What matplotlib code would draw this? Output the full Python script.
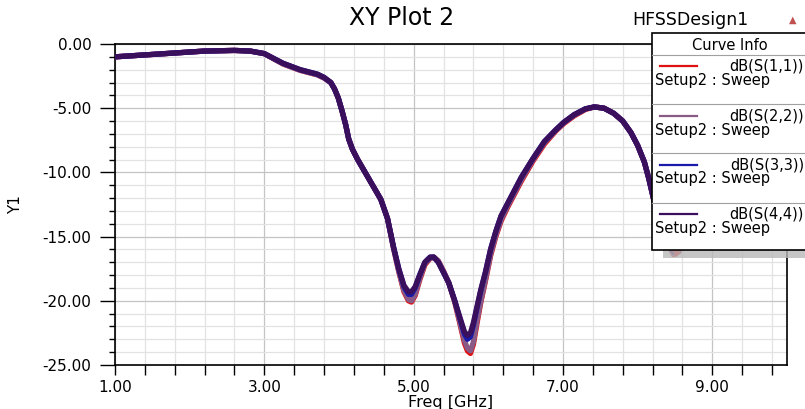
import matplotlib.pyplot as plt
from matplotlib.patches import Rectangle
from matplotlib.ticker import MultipleLocator, FormatStrFormatter

plt.rcParams['font.family'] = ['DejaVu Sans']
plt.rcParams['axes.unicode_minus'] = False

# frequency sweep points [GHz]
freq = [1.00, 1.40, 1.80, 2.20, 2.60, 2.81, 3.00, 3.25, 3.48, 3.71,
        3.80, 3.89, 3.94, 3.99, 4.04, 4.09, 4.13, 4.18, 4.25, 4.33,
        4.46, 4.56, 4.65, 4.73, 4.80, 4.87, 4.93, 4.97, 5.02, 5.08,
        5.15, 5.22, 5.27, 5.33, 5.40, 5.47, 5.55, 5.62, 5.68, 5.72,
        5.76, 5.80, 5.85, 5.90, 5.96, 6.03, 6.10, 6.17, 6.26, 6.35,
        6.44, 6.60, 6.75, 6.90, 7.01, 7.15, 7.30, 7.42, 7.55, 7.68,
        7.80, 7.91, 8.00, 8.09, 8.15, 8.21, 8.30, 8.40, 8.48, 8.55,
        8.65, 8.80, 9.00, 9.40, 10.00]

# return loss of the four ports [dB]
s11 = [-1.00, -0.85, -0.70, -0.55, -0.50, -0.55, -0.75, -1.55, -2.05, -2.40,
       -2.65, -3.00, -3.50, -4.20, -5.20, -6.30, -7.40, -8.20, -9.00, -9.80,
       -11.10, -12.10, -13.60, -15.90, -17.70, -19.30, -20.00, -20.10, -19.60, -18.40,
       -17.20, -16.70, -16.60, -16.90, -17.70, -18.60, -20.10, -21.80, -23.30, -23.90,
       -24.10, -23.40, -21.70, -20.10, -18.50, -16.50, -15.00, -13.80, -12.70, -11.70,
       -10.70, -9.10, -7.80, -6.80, -6.20, -5.60, -5.10, -4.90, -5.00, -5.40,
       -6.00, -6.90, -7.90, -9.20, -10.50, -12.00, -13.90, -15.50, -16.40, -16.20,
       -14.60, -12.10, -10.00, -8.00, -6.50]
s22 = [-1.00, -0.85, -0.70, -0.55, -0.50, -0.55, -0.75, -1.55, -2.05, -2.40,
       -2.65, -3.00, -3.50, -4.20, -5.20, -6.30, -7.40, -8.20, -9.00, -9.80,
       -11.10, -12.10, -13.60, -15.90, -17.70, -19.20, -19.90, -20.00, -19.50, -18.30,
       -17.10, -16.70, -16.60, -16.90, -17.70, -18.60, -20.00, -21.70, -23.10, -23.70,
       -23.90, -23.20, -21.50, -20.00, -18.40, -16.40, -14.90, -13.70, -12.60, -11.60,
       -10.60, -9.00, -7.70, -6.75, -6.15, -5.55, -5.05, -4.90, -5.00, -5.40,
       -6.00, -6.90, -7.90, -9.20, -10.50, -12.00, -13.85, -15.40, -16.30, -16.10,
       -14.50, -12.00, -10.00, -8.00, -6.50]
s33 = [-1.00, -0.85, -0.70, -0.55, -0.50, -0.55, -0.75, -1.50, -2.00, -2.35,
       -2.60, -3.00, -3.50, -4.20, -5.20, -6.30, -7.40, -8.20, -9.00, -9.80,
       -11.10, -12.10, -13.60, -15.80, -17.50, -18.90, -19.50, -19.50, -19.00, -18.00,
       -17.00, -16.60, -16.60, -17.00, -17.80, -18.60, -20.00, -21.40, -22.60, -23.00,
       -22.80, -21.90, -20.50, -19.20, -17.80, -16.00, -14.60, -13.40, -12.40, -11.40,
       -10.40, -8.90, -7.60, -6.70, -6.10, -5.50, -5.05, -4.90, -5.00, -5.40,
       -6.00, -6.90, -7.90, -9.20, -10.50, -12.00, -13.80, -15.30, -16.20, -16.00,
       -14.50, -12.00, -10.00, -8.00, -6.50]
s44 = [-1.00, -0.85, -0.70, -0.55, -0.50, -0.55, -0.75, -1.50, -2.00, -2.35,
       -2.60, -3.00, -3.50, -4.20, -5.20, -6.30, -7.40, -8.20, -9.00, -9.80,
       -11.10, -12.10, -13.60, -15.80, -17.50, -18.80, -19.30, -19.30, -18.90, -18.00,
       -17.00, -16.60, -16.60, -17.00, -17.80, -18.60, -20.00, -21.30, -22.40, -22.70,
       -22.50, -21.70, -20.40, -19.10, -17.80, -16.00, -14.60, -13.40, -12.40, -11.40,
       -10.40, -8.90, -7.60, -6.70, -6.10, -5.50, -5.05, -4.90, -5.00, -5.40,
       -6.00, -6.90, -7.90, -9.20, -10.50, -12.00, -13.80, -15.30, -16.20, -16.00,
       -14.50, -12.00, -10.00, -8.00, -6.50]

# marker on dB(S(1,1))
m_freq = [8.52]
m_db = [-16.3]

curves = [("dB(S(1,1))", s11, "#e01010"),
          ("dB(S(2,2))", s22, "#8a5a86"),
          ("dB(S(3,3))", s33, "#1a1aa8"),
          ("dB(S(4,4))", s44, "#3a0f5c")]

W, H = 805, 409
fig = plt.figure(figsize=(W / 100, H / 100), dpi=100)
ax = fig.add_axes([115 / W, (H - 365) / H, 672 / W, 321 / H])

for name, vals, col in curves:
    ax.plot(freq, vals, color=col, lw=3.8, solid_capstyle="round",
            solid_joinstyle="round", zorder=3)
ax.plot(m_freq, m_db, "v", color="#e01010", ms=5, zorder=6)

ax.set_xlim(1, 10)
ax.set_ylim(-25, 0)
ax.xaxis.set_major_locator(MultipleLocator(2, offset=1))
ax.xaxis.set_minor_locator(MultipleLocator(0.4, offset=0.2))
ax.yaxis.set_major_locator(MultipleLocator(5))
ax.yaxis.set_minor_locator(MultipleLocator(1))
ax.xaxis.set_major_formatter(FormatStrFormatter("%.2f"))
ax.yaxis.set_major_formatter(FormatStrFormatter("%.2f"))
ax.grid(which="major", color="#c4c4c4", lw=0.9)
ax.grid(which="minor", color="#e2e2e2", lw=0.9)
ax.set_axisbelow(True)
ax.tick_params(axis="y", which="major", length=11, width=1, labelsize=11, pad=6)
ax.tick_params(axis="y", which="minor", length=4.5, width=1)
ax.tick_params(axis="x", which="major", length=7, width=1, labelsize=11, pad=4)
ax.tick_params(axis="x", which="minor", length=7, width=1)
for s in ax.spines.values():
    s.set_linewidth(1.2)
ax.set_xlabel("Freq [GHz]", fontsize=11.5, labelpad=0)
ax.set_ylabel("Y1", fontsize=11, labelpad=14)

fig.text(402 / W, 1 - 18 / H, "XY Plot 2", fontsize=17, ha="center", va="center")
fig.text(690 / W, 1 - 20 / H, "HFSSDesign1", fontsize=12.5, ha="center", va="center")
fig.text(793 / W, 1 - 20 / H, "\u25b2", fontsize=7, color="#c05050", ha="center", va="center")

# curve info box, drawn in pixel coordinates on top of the plot
lg = fig.add_axes([0, 0, 1, 1], zorder=10)
lg.set_xlim(0, W)
lg.set_ylim(H, 0)
lg.axis("off")
lg.add_patch(Rectangle((663, 250), 150, 8, facecolor="#b8b8b8", edgecolor="none", alpha=0.8))
lg.add_patch(Rectangle((652, 33), 170, 217, facecolor="white", edgecolor="black", lw=1.2))
lg.text(730, 46, "Curve Info", fontsize=10.5, ha="center", va="center")
lg.plot([652, 810], [55, 55], color="#a0a0a0", lw=0.8)
row_y = [66, 116, 165, 214]
for (name, vals, col), y in zip(curves, row_y):
    lg.plot([660, 697], [y, y], color=col, lw=1.6)
    lg.text(804, y, name, fontsize=10.5, ha="right", va="center")
    lg.text(655, y + 14, "Setup2 : Sweep", fontsize=10.5, ha="left", va="center")
for y in [104, 153, 203]:
    lg.plot([652, 810], [y, y], color="#a0a0a0", lw=0.8)

fig.savefig("out.png", dpi=100)
